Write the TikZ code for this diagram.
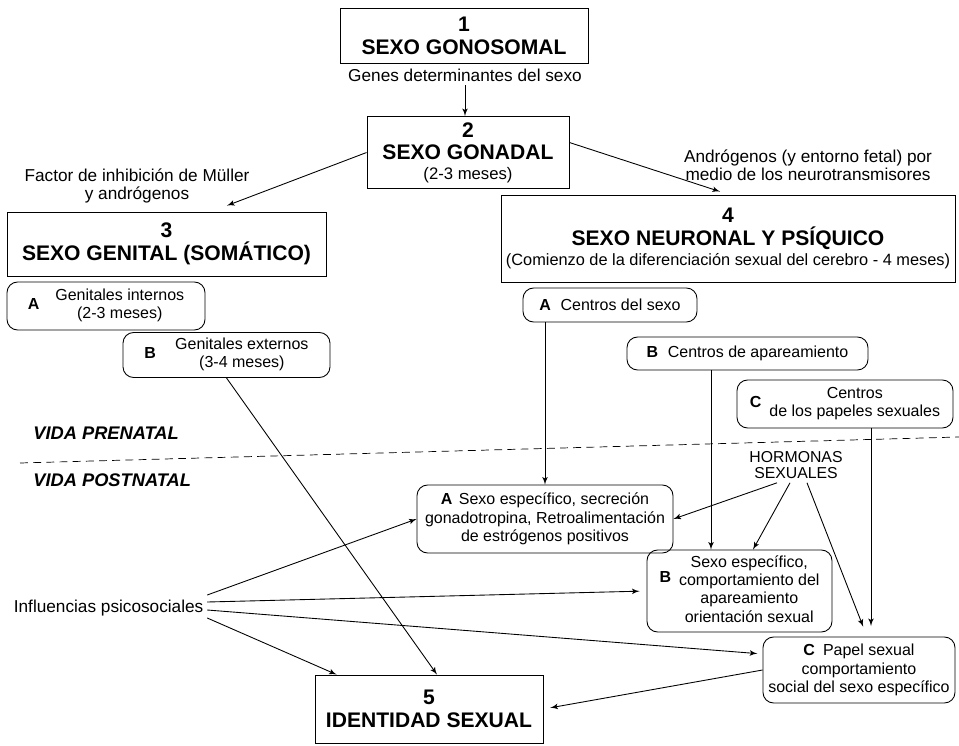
\documentclass[tikz,border=0pt]{standalone}
\usepackage{fontspec}
\setmainfont{Liberation Sans}
\usetikzlibrary{calc, arrows}
\tikzstyle{tbox}=[draw, line width=0.5pt, inner sep=0pt, align=center, font=\fontsize{12}{13}\selectfont\bfseries]
\tikzstyle{rbox}=[draw, line width=0.5pt, rounded corners=6pt, inner sep=0pt, align=center, font=\fontsize{9.1}{10.4}\selectfont]
\tikzstyle{txt}=[align=center, inner sep=2pt, font=\fontsize{9.8}{10.4}\selectfont]
\tikzstyle{era}=[inner sep=0pt, anchor=west, font=\fontsize{10.4}{12}\selectfont\bfseries\itshape]
\tikzstyle{conn}=[->, line width=0.5pt]

\begin{document}
\begin{tikzpicture}[x=0.02cm,y=-0.02cm,>=latex']
      \useasboundingbox (0,0) rectangle (959,746);
      % sexo 1 - 5
      \node [tbox, minimum width=4.96cm, minimum height=1.1cm] (s1) at (464,35.5) {1\\SEXO GONOSOMAL};
      \node [txt] (genes) at (465,75) {Genes determinantes del sexo};
      \node [tbox, minimum width=4.04cm, minimum height=1.44cm] (s2) at (468,152.5)
            {2\\SEXO GONADAL\\[-2pt]{\mdseries\fontsize{9.5}{10}\selectfont (2-3 meses)}};
      \node [txt] (factor) at (137,186) {Factor de inhibición de Müller\\y andrógenos};
      \node [txt] (androg) at (808,165) {Andrógenos (y entorno fetal) por\\medio de los neurotransmisores};
      \node [tbox, minimum width=6.38cm, minimum height=1.28cm] (s3) at (166.5,244) {3\\SEXO GENITAL (SOMÁTICO)};
      \node [tbox, minimum width=9.08cm, minimum height=1.74cm] (s4) at (728,238.5)
            {4\\SEXO NEURONAL Y PSÍQUICO\\[-2pt]{\mdseries\fontsize{9.3}{10}\selectfont (Comienzo de la diferenciación sexual del cerebro - 4 meses)}};
      \node [tbox, minimum width=4.56cm, minimum height=1.36cm] (s5) at (429,709) {5\\IDENTIDAD SEXUAL};
      % prenatal
      \node [rbox, minimum width=3.96cm, minimum height=0.96cm] (g3a) at (106,306)
            {\textbf{A}\hspace{1em}\begin{tabular}{@{}c@{}}Genitales internos\\(2-3 meses)\end{tabular}};
      \node [rbox, minimum width=4.14cm, minimum height=0.9cm] (g3b) at (226.5,355)
            {\textbf{B}\hspace{1.2em}\begin{tabular}{@{}c@{}}Genitales externos\\(3-4 meses)\end{tabular}};
      \node [rbox, minimum width=3.48cm, minimum height=0.68cm] (n4a) at (610,305) {\textbf{A}\hspace{0.6em}Centros del sexo};
      \node [rbox, minimum width=4.82cm, minimum height=0.66cm] (n4b) at (747.5,353.5) {\textbf{B}\hspace{0.6em}Centros de apareamiento};
      \node [rbox, minimum width=4.32cm, minimum height=0.96cm] (n4c) at (845,404)
            {\textbf{C}\hspace{0.5em}\begin{tabular}{@{}c@{}}Centros\\de los papeles sexuales\end{tabular}};
      \node [era] (prenatal) at (33,433) {VIDA PRENATAL};
      \node [era] (postnatal) at (33,480) {VIDA POSTNATAL};
      \draw [dashed, dash pattern=on 4.5pt off 3pt] (20,463) -- (959,437);
      % postnatal
      \node [txt, font=\fontsize{9}{9.5}\selectfont] (horm) at (796,465) {HORMONAS\\SEXUALES};
      \node [rbox, minimum width=5.12cm, minimum height=1.36cm] (pa) at (545,519)
            {\textbf{A}\hspace{0.4em}Sexo específico, secreción\\gonadotropina, Retroalimentación\\de estrógenos positivos};
      \node [rbox, minimum width=3.70cm, minimum height=1.64cm] (pb) at (739.5,591)
            {\raisebox{0.8em}{\textbf{B}}\hspace{0.5em}\begin{tabular}{@{}c@{}}Sexo específico,\\comportamiento del\\apareamiento\\orientación sexual\end{tabular}};
      \node [rbox, minimum width=3.84cm, minimum height=1.32cm] (pc) at (859,670)
            {\textbf{C}\hspace{0.5em}Papel sexual\\comportamiento\\social del sexo específico};
      \node [txt, anchor=west] (infl) at (10,608) {Influencias psicosociales};
      \coordinate (pbin) at ([xshift=-0.57cm]pb.north);
      \coordinate (pcin) at ([xshift=0.24cm]pc.north);
      % arrows
      \path[conn] (genes) edge (genes |- s2.north);
      \path[conn] (s2.west) edge ([xshift=1.21cm,yshift=0.12cm]s3.north);
      \path[conn] ([yshift=0.2cm]s2.east) edge ([xshift=-0.16cm,yshift=0.06cm]s4.north);
      \path[conn] (g3b.south) edge ([xshift=0.16cm]s5.north);
      \path[conn] (pa.north |- n4a.south) edge (pa.north);
      \path[conn] (pbin |- n4b.south) edge (pbin);
      \path[conn, shorten >=6pt] (pcin |- n4c.south) edge (pcin);
      \path[conn] ([xshift=-0.38cm]horm.south) edge (pa.east);
      \path[conn] ([xshift=-0.12cm]horm.south) edge ([xshift=0.27cm]pb.north);
      \path[conn, shorten >=6pt] ([xshift=0.22cm]horm.south) edge ([xshift=0.16cm]pc.north);
      \path[conn] ([yshift=0.26cm]infl.east) edge (pa.west);
      \path[conn, shorten >=4pt] ([yshift=0.12cm]infl.east) edge (pb.west);
      \path[conn, shorten >=3pt] ([yshift=-0.04cm]infl.east) edge ([yshift=0.32cm]pc.west);
      \path[conn] ([yshift=-0.2cm]infl.east) edge ([xshift=0.44cm]s5.north west);
      \path[conn, shorten >=4pt] (pc.west) edge (s5.east);
\end{tikzpicture}
\end{document}
